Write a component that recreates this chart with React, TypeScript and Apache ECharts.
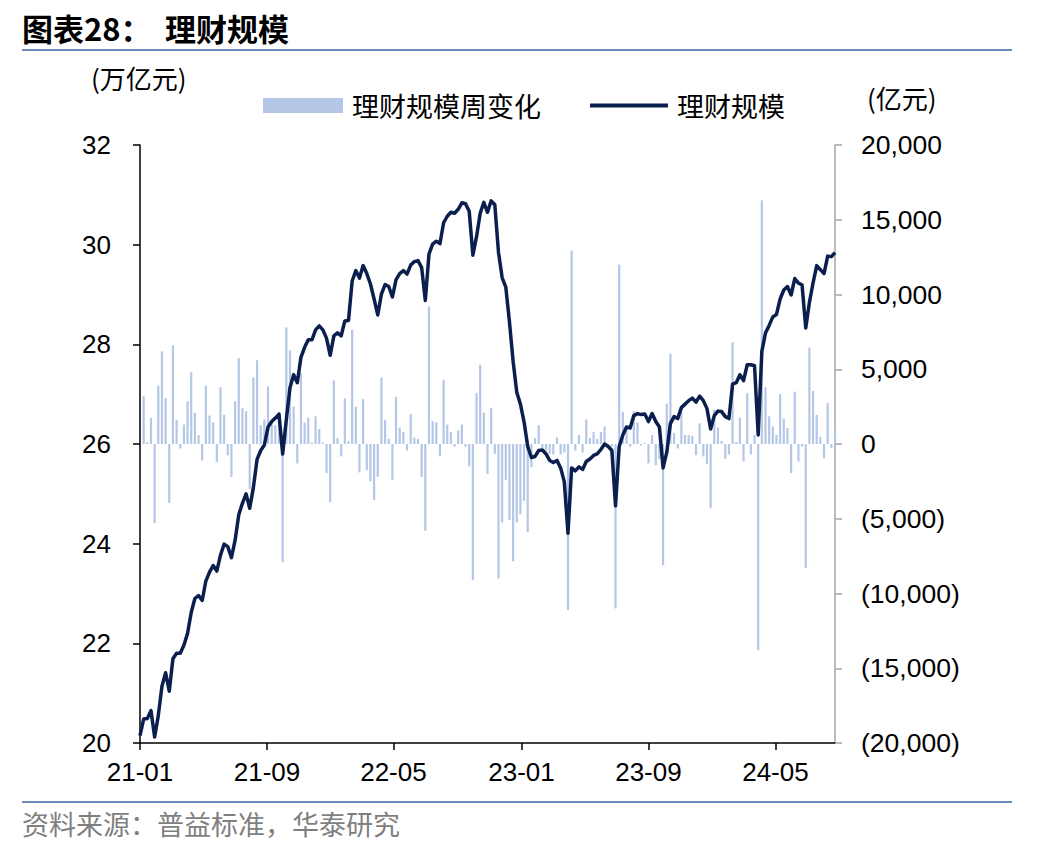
import React, { useEffect, useRef } from 'react';
import * as echarts from 'echarts';

// Weekly dates: first observation 2021-01-01, one point per week
const startDate = '2021-01-01';
const weekCount = 191;

const xTickLabels = ['21-01', '21-09', '22-05', '23-01', '23-09', '24-05'];
const xTickDates = ['2021-01-01', '2021-09-01', '2022-05-01', '2023-01-01', '2023-09-01', '2024-05-01'];

const leftTicks = { min: 20, max: 32, interval: 2 };
const rightTicks = { min: -20000, max: 20000, interval: 5000 };

// 理财规模 (万亿元)
const scaleTrillion = [
  20.15, 20.48, 20.49, 20.65, 20.12, 20.55, 21.14, 21.41, 21.04, 21.69,
  21.80, 21.80, 21.96, 22.20, 22.62, 22.90, 22.96, 22.86, 23.25, 23.43,
  23.56, 23.45, 23.77, 23.99, 23.94, 23.72, 24.07, 24.58, 24.81, 25.00,
  24.71, 25.13, 25.69, 25.87, 25.98, 26.34, 26.45, 26.52, 26.60, 25.80,
  26.49, 27.13, 27.39, 27.23, 27.74, 27.94, 28.09, 28.09, 28.29, 28.37,
  28.29, 28.12, 27.78, 28.17, 28.23, 28.17, 28.47, 28.48, 29.27, 29.48,
  29.33, 29.58, 29.42, 29.21, 28.91, 28.59, 29.01, 29.20, 29.16, 28.95,
  29.30, 29.42, 29.48, 29.41, 29.59, 29.66, 29.68, 29.54, 28.88, 29.81,
  30.01, 30.07, 30.02, 30.44, 30.57, 30.65, 30.63, 30.71, 30.84, 30.82,
  30.67, 29.79, 30.16, 30.63, 30.85, 30.65, 30.88, 30.80, 29.85, 29.34,
  29.15, 28.45, 27.66, 27.04, 26.80, 26.44, 25.95, 25.73, 25.75, 25.87,
  25.88, 25.80, 25.67, 25.63, 25.67, 25.52, 25.24, 24.21, 25.52, 25.46,
  25.54, 25.49, 25.65, 25.70, 25.77, 25.80, 25.89, 26.00, 25.95, 25.87,
  24.76, 25.95, 26.18, 26.34, 26.32, 26.57, 26.61, 26.59, 26.60, 26.45,
  26.61, 26.45, 26.34, 25.52, 25.83, 26.41, 26.55, 26.51, 26.73, 26.80,
  26.87, 26.92, 26.84, 26.96, 26.87, 26.71, 26.30, 26.57, 26.66, 26.65,
  26.55, 26.51, 27.20, 27.23, 27.39, 27.27, 27.59, 27.59, 27.57, 26.18,
  27.86, 28.23, 28.38, 28.55, 28.60, 28.91, 29.09, 29.16, 28.99, 29.32,
  29.23, 29.19, 28.33, 28.84, 29.23, 29.58, 29.50, 29.42, 29.77, 29.76,
  29.84,
];

// 理财规模周变化 (亿元)
const weeklyChange: (number | null)[] = [
  null, 3200, 100, 1750, -5300, 3900, 6200, 3070, -3950, 6600,
  1600, -300, 1300, 2860, 4800, 2100, 600, -1100, 3900, 1900,
  1450, -1200, 3800, 1950, -750, -2200, 2860, 5750, 2400, 2200,
  -3000, 4450, 5600, 1250, 1650, 3850, 1400, 1250, 2150, -7900,
  7800, 6250, 2500, -1300, 4750, 1450, 1750, 100, 1850, 1000,
  100, -1950, -3900, 4250, 400, -830, 3050, 200, 7650, 2500,
  -1900, 3000, -1750, -2500, -3750, -2200, 4450, 1600, 340, -2400,
  3150, 1100, 800, -440, 2000, 440, 340, -2200, -5800, 9200,
  1530, 1450, -830, 4300, 1300, 800, -180, 900, 1300, -180,
  -1500, -9100, 3400, 5300, 2100, -2000, 2400, -650, -9000, -5250,
  -2400, -5100, -7850, -5250, -4700, -3800, -5900, -1550, 400, 1250,
  -300, -440, -650, -700, 440, -700, -570, -11100, 12950, -440,
  600, -570, 1640, 400, 800, 340, 800, 1170, -50, -180,
  -11000, 12000, 2150, 1170, -180, 2200, 1430, -100, 50, -1300,
  600, -1430, -1000, -8100, 2700, 6050, 730, -300, 2200, 600,
  600, 550, -750, 1380, -830, -1350, -4300, 2300, 1100, 200,
  -1000, -700, 6800, 130, 1770, -1170, 3400, -700, 600, -13800,
  16300, 3800, 1850, 1170, 600, 3330, 1700, 1070, -1950, 3500,
  -1170, -180, -8300, 6450, 3550, 1950, 470, -950, 2750, -260,
  1000,
];

const LINE_COLOR = '#0b1f4e';
const BAR_COLOR = '#b4c7e7';
const RULE_COLOR = '#6a8cb5';
const NUM_FONT = '"Liberation Sans", Arial, sans-serif';
const CJK_FONT = '"Noto Sans CJK SC", sans-serif';

const DAY = 24 * 3600 * 1000;

export default function App() {
  const ref = useRef<HTMLDivElement>(null);

  useEffect(() => {
    if (!ref.current) return;
    const chart = echarts.init(ref.current, null, { renderer: 'svg' });

    // x positions are days elapsed since startDate
    const start = Date.parse(startDate + 'T00:00:00Z');
    const days = Array.from({ length: weekCount }, (_, i) => i * 7);
    const tickDays = xTickDates.map((d) => Math.round((Date.parse(d + 'T00:00:00Z') - start) / DAY));

    const lineData = scaleTrillion.map((v, i) => [days[i], v]);
    const barData = weeklyChange.map((v, i) => [days[i], v]);

    const fmtRight = (v: number) => {
      const s = Math.abs(v).toLocaleString('en-US');
      return v < 0 ? `(${s})` : s;
    };

    chart.setOption({
      animation: false,
      backgroundColor: '#ffffff',
      grid: {
        left: 140,
        right: 213,
        top: 145,
        bottom: 109,
        containLabel: false,
        outerBoundsMode: 'none',
      },
      legend: [
        {
          data: [{ name: '理财规模周变化', icon: 'rect' }],
          left: 263,
          top: 92,
          padding: 0,
          itemWidth: 80,
          itemHeight: 15,
          itemGap: 0,
          textStyle: { fontFamily: CJK_FONT, fontSize: 27, color: '#000', padding: [0, 0, 0, 4] },
          selectedMode: false,
        },
        {
          data: [{ name: '理财规模', icon: 'rect' }],
          left: 590,
          top: 92,
          padding: 0,
          itemWidth: 78,
          itemHeight: 4,
          itemGap: 0,
          textStyle: { fontFamily: CJK_FONT, fontSize: 27, color: '#000', padding: [0, 0, 0, 4] },
          selectedMode: false,
        },
      ],
      xAxis: {
        type: 'value',
        min: days[0],
        max: days[days.length - 1],
        axisLine: { show: true, onZero: false, lineStyle: { color: '#000', width: 1.5 } },
        axisTick: {
          show: true,
          customValues: tickDays,
          length: 7,
          lineStyle: { color: '#000', width: 1.5 },
        },
        axisLabel: {
          customValues: tickDays,
          margin: 16,
          fontFamily: NUM_FONT,
          fontSize: 26,
          color: '#000',
          formatter: (v: number) => {
            const k = tickDays.indexOf(Math.round(v));
            return k >= 0 ? xTickLabels[k] : '';
          },
        },
        splitLine: { show: false },
        minorTick: { show: false },
      },
      yAxis: [
        {
          type: 'value',
          position: 'left',
          min: leftTicks.min,
          max: leftTicks.max,
          interval: leftTicks.interval,
          axisLine: { show: true, lineStyle: { color: '#000', width: 1.5 } },
          axisTick: { show: true, length: 7, lineStyle: { color: '#000', width: 1.5 } },
          axisLabel: { margin: 29, fontFamily: NUM_FONT, fontSize: 26, color: '#000' },
          splitLine: { show: false },
        },
        {
          type: 'value',
          position: 'right',
          min: rightTicks.min,
          max: rightTicks.max,
          interval: rightTicks.interval,
          axisLine: { show: true, lineStyle: { color: '#a6a6a6', width: 1.5 } },
          axisTick: { show: true, length: 7, lineStyle: { color: '#a6a6a6', width: 1.5 } },
          axisLabel: {
            margin: 26,
            fontFamily: NUM_FONT,
            fontSize: 26.5,
            color: '#000',
            formatter: fmtRight,
          },
          splitLine: { show: false },
        },
      ],
      series: [
        {
          name: '理财规模周变化',
          type: 'bar',
          yAxisIndex: 1,
          data: barData,
          barWidth: 2.2,
          itemStyle: { color: BAR_COLOR },
          z: 1,
        },
        {
          name: '理财规模',
          type: 'line',
          yAxisIndex: 0,
          data: lineData,
          symbol: 'none',
          lineStyle: { color: LINE_COLOR, width: 3.5, join: 'round' },
          itemStyle: { color: LINE_COLOR },
          z: 3,
        },
      ],
      graphic: [
        {
          type: 'text',
          left: 22,
          top: 12,
          style: { text: '图表28：', font: `bold 31px ${CJK_FONT}`, fill: '#000' },
        },
        {
          type: 'text',
          left: 165,
          top: 12,
          style: { text: '理财规模', font: `bold 31px ${CJK_FONT}`, fill: '#000' },
        },
        {
          type: 'rect',
          shape: { x: 22, y: 49, width: 990, height: 2 },
          style: { fill: RULE_COLOR },
        },
        {
          type: 'text',
          left: 91,
          top: 64,
          style: { text: '(万亿元)', font: `26px ${CJK_FONT}`, fill: '#000' },
        },
        {
          type: 'text',
          left: 867,
          top: 84,
          style: { text: '(亿元)', font: `26px ${CJK_FONT}`, fill: '#000' },
        },
        {
          type: 'rect',
          shape: { x: 22, y: 801, width: 990, height: 2 },
          style: { fill: RULE_COLOR },
        },
        {
          type: 'text',
          left: 22,
          top: 810,
          style: { text: '资料来源：普益标准，华泰研究', font: `27px ${CJK_FONT}`, fill: '#7f7f7f' },
        },
      ],
    });

    return () => chart.dispose();
  }, []);

  return (
    <div
      ref={ref}
      style={{ position: 'absolute', left: 0, top: 0, width: 1048, height: 852 }}
    />
  );
}
